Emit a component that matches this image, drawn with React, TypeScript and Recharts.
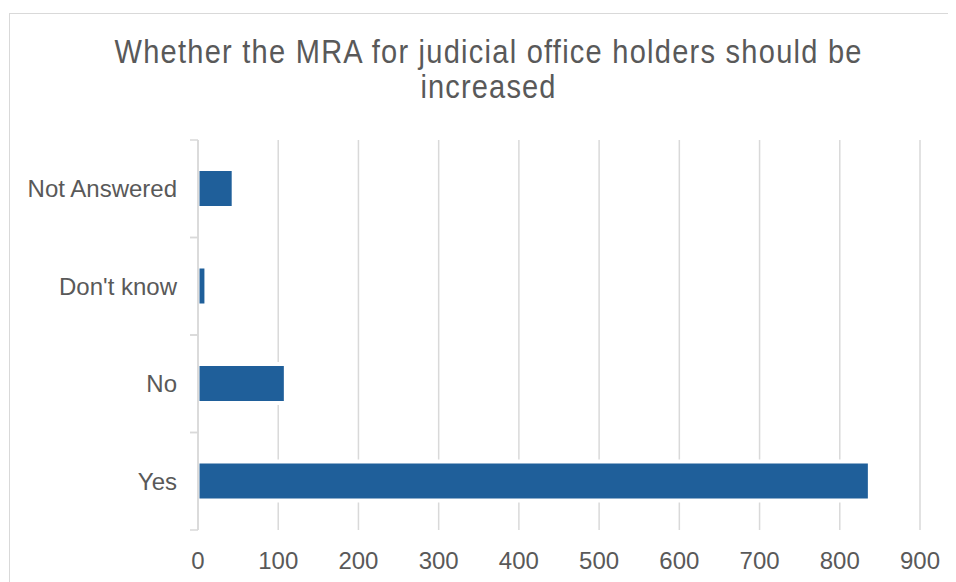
import React from 'react'
import { Bar, BarChart, CartesianGrid, XAxis, YAxis } from 'recharts'

const categories = ['Not Answered', "Don't know", 'No', 'Yes']
const responses = [42, 8, 107, 835]
const xTicks = [0, 100, 200, 300, 400, 500, 600, 700, 800, 900]
const titleLines = ['Whether the MRA for judicial office holders should be', 'increased']

const data = categories.map((name, i) => ({ name, value: responses[i] }))

const FONT = '"Liberation Sans", Arial, sans-serif'
const TEXT = '#595959'
const GRID = '#d9d9d9'
const BAR = '#1f5f9a'

const AXIS_GAP = 21
const TITLE_SX = 0.88

// category label plus the small tick marks that sit between categories
const CategoryTick = (props: any) => {
  const { x, y, payload } = props
  const half = payload?.offset ?? 0
  const ax = x + AXIS_GAP
  return (
    <g>
      <line x1={ax - 8} x2={ax} y1={y - half} y2={y - half} stroke={GRID} strokeWidth={1.5} />
      <line x1={ax - 8} x2={ax} y1={y + half} y2={y + half} stroke={GRID} strokeWidth={1.5} />
      <text x={x} y={y} dy="0.36em" textAnchor="end" fill={TEXT} fontSize={24} fontFamily={FONT}>
        {payload.value}
      </text>
    </g>
  )
}

const HaloBar = (props: any) => {
  const { x, y, width, height } = props
  return (
    <g>
      <rect x={x + 1} y={y - 4} width={width + 2} height={height + 8} fill="#fff" />
      <rect x={x + 1.5} y={y} width={Math.max(width - 1.5, 0)} height={height} fill={BAR} />
    </g>
  )
}

const TitleLine = ({ text, y, len }: { text: string; y: number; len: number }) => (
  <text
    transform={`translate(480,${y}) scale(${TITLE_SX},1)`}
    textAnchor="middle"
    fill={TEXT}
    fontSize={33}
    fontFamily={FONT}
    textLength={len / TITLE_SX}
    lengthAdjust="spacing"
  >
    {text}
  </text>
)

export default function App() {
  return (
    <div style={{ position: 'relative', width: 948, height: 574, overflow: 'hidden', fontFamily: FONT }}>
      <div
        style={{
          position: 'absolute',
          left: 1,
          top: 5,
          width: 1000,
          height: 700,
          border: `1.5px solid ${GRID}`,
          boxSizing: 'border-box',
        }}
      />
      <svg width={948} height={120} style={{ position: 'absolute', left: 0, top: 0 }}>
        <TitleLine text={titleLines[0]} y={55} len={747} />
        <TitleLine text={titleLines[1]} y={90} len={135} />
      </svg>
      <div style={{ position: 'absolute', left: 0, top: 0 }}>
        <BarChart
          width={948}
          height={574}
          data={data}
          layout="vertical"
          margin={{ top: 132, right: 36, bottom: 12, left: 0 }}
        >
          <CartesianGrid horizontal={false} stroke={GRID} strokeWidth={1.5} />
          <XAxis
            type="number"
            domain={[0, 900]}
            ticks={xTicks}
            axisLine={false}
            tickLine={false}
            tickSize={6}
            tickMargin={16}
            height={40}
            tick={{ fill: TEXT, fontSize: 24, fontFamily: FONT }}
          />
          <YAxis
            type="category"
            dataKey="name"
            width={190}
            axisLine={{ stroke: GRID, strokeWidth: 1.5 }}
            tickLine={false}
            tickSize={8}
            tickMargin={13}
            tick={<CategoryTick />}
          />
          <Bar dataKey="value" barSize={35} shape={<HaloBar />} isAnimationActive={false} />
        </BarChart>
      </div>
    </div>
  )
}
